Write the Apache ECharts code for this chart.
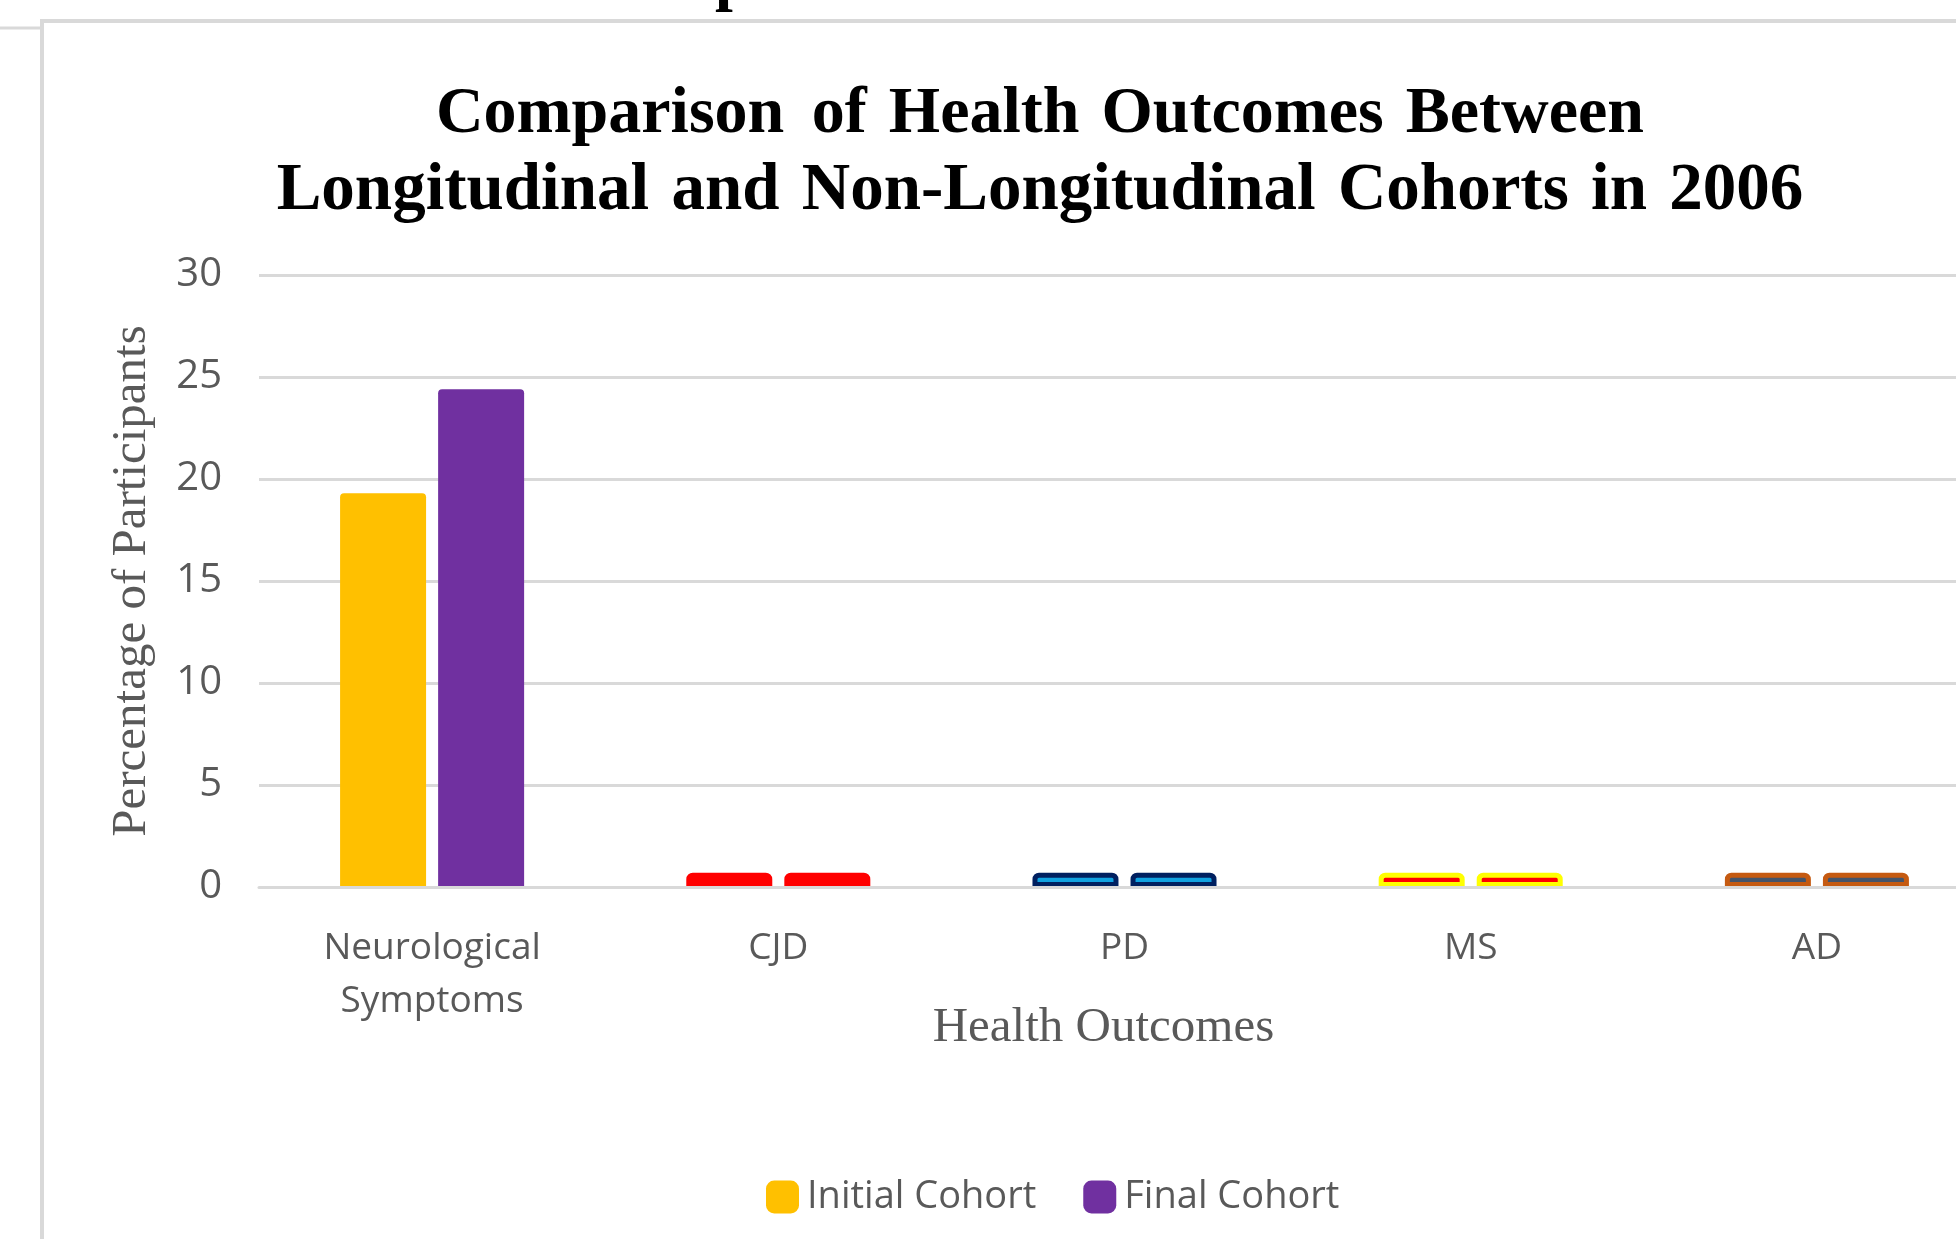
<!DOCTYPE html>
<html>
<head>
<meta charset="utf-8">
<title>Health Outcomes 2006</title>
<script src="https://cdn.jsdelivr.net/npm/echarts@6/dist/echarts.min.js"></script>
<style>
  html, body { margin: 0; padding: 0; background: #fff; overflow: hidden; }
  /* plot area runs past the right edge of the picture, so the canvas is a bit wider */
  #chart { width: 2000px; height: 1239px; }
</style>
</head>
<body>
<div id="chart"></div>
<script>
// values
var categories = ["Neurological\nSymptoms", "CJD", "PD", "MS", "AD"];
var initialCohort = [19.3, 0.7, 0.7, 0.7, 0.7];
var finalCohort = [24.4, 0.7, 0.7, 0.7, 0.7];
var yMin = 0, yMax = 30, yStep = 5;

// per point fill / outline (excel style)
var initialFill = ["#FFC000", "#FF0000", "#10A2E0", "#FF0000", "#44546A"];
var finalFill = ["#7030A0", "#FF0000", "#10A2E0", "#FF0000", "#44546A"];
var outline = [null, "#FF0000", "#002060", "#FFFF00", "#C55A11"];

var gray = "#595959";
var lineGray = "#d9d9d9";
var hs = "\u200A"; // hair space, the title is set a little loose

function buildData(values, fills) {
  return values.map(function (v, i) {
    return {
      value: v,
      itemStyle: {
        color: fills[i],
        borderColor: outline[i] || fills[i],
        borderWidth: outline[i] ? 5 : 0
      }
    };
  });
}

var chart = echarts.init(document.getElementById("chart"));
chart.setOption({
  backgroundColor: "#fff",
  animation: false,
  graphic: [
    // frame of the chart area
    {
      type: "rect", z: 0,
      shape: { x: 42, y: 21, width: 2000, height: 1300 },
      style: { fill: null, stroke: lineGray, lineWidth: 4 }
    },
    {
      type: "line", z: 0,
      shape: { x1: 0, y1: 28, x2: 40, y2: 28 },
      style: { stroke: lineGray, lineWidth: 3 }
    },
    // cut-off glyph of the text above the chart
    {
      type: "text", z: 5, x: 715, y: -19,
      style: {
        text: "p", fill: "#000",
        font: "bold 64px 'Liberation Serif'",
        align: "left", verticalAlign: "middle"
      }
    },
    {
      type: "text", z: 5, x: 1040, y: 115,
      style: {
        text: "Comparison " + hs + hs + "of " + hs + "Health " + hs + "Outcomes " + hs + "Between",
        fill: "#000",
        font: "bold 66px 'Liberation Serif'",
        align: "center", verticalAlign: "middle"
      }
    },
    {
      type: "text", z: 5, x: 1040, y: 192,
      style: {
        text: ["Longitudinal", "and", "Non-Longitudinal", "Cohorts", "in", "2006"].join(" " + hs),
        fill: "#000",
        font: "bold 67px 'Liberation Serif'",
        align: "center", verticalAlign: "middle"
      }
    }
  ],
  legend: {
    data: ["Initial Cohort", "Final Cohort"],
    left: 766,
    top: 1178,
    padding: 0,
    icon: "roundRect",
    itemWidth: 33,
    itemHeight: 33,
    itemGap: 47,
    textStyle: {
      fontFamily: "Open Sans", fontSize: 38, color: gray,
      padding: [0, 0, 0, 3]
    }
  },
  grid: { left: 259, top: 275, bottom: 352, right: 10 },
  xAxis: {
    type: "category",
    data: categories,
    z: 3,
    name: "Health Outcomes",
    nameLocation: "middle",
    nameGap: 117,
    nameMoveOverlap: false,
    nameTextStyle: {
      fontFamily: "Liberation Serif", fontSize: 49, color: gray,
      padding: [0, 42, 0, 0]
    },
    axisLine: { lineStyle: { color: lineGray, width: 3 } },
    axisTick: { show: false },
    axisLabel: {
      margin: 35,
      fontFamily: "Open Sans", fontSize: 37, color: gray, lineHeight: 53
    }
  },
  yAxis: {
    type: "value",
    min: yMin, max: yMax, interval: yStep,
    name: "Percentage of Participants",
    nameLocation: "middle",
    nameGap: 102,
    nameTextStyle: { fontFamily: "Liberation Serif", fontSize: 49, color: gray },
    axisLine: { show: false },
    axisTick: { show: false },
    axisLabel: { margin: 37, fontFamily: "Open Sans", fontSize: 40, color: gray },
    splitLine: { lineStyle: { color: lineGray, width: 3 } }
  },
  series: [
    {
      name: "Initial Cohort",
      type: "bar",
      barWidth: 86,
      barGap: "14%",
      itemStyle: { color: initialFill[0], borderRadius: [4, 4, 0, 0] },
      data: buildData(initialCohort, initialFill)
    },
    {
      name: "Final Cohort",
      type: "bar",
      barWidth: 86,
      barGap: "14%",
      itemStyle: { color: finalFill[0], borderRadius: [4, 4, 0, 0] },
      data: buildData(finalCohort, finalFill)
    }
  ]
});
</script>
</body>
</html>
